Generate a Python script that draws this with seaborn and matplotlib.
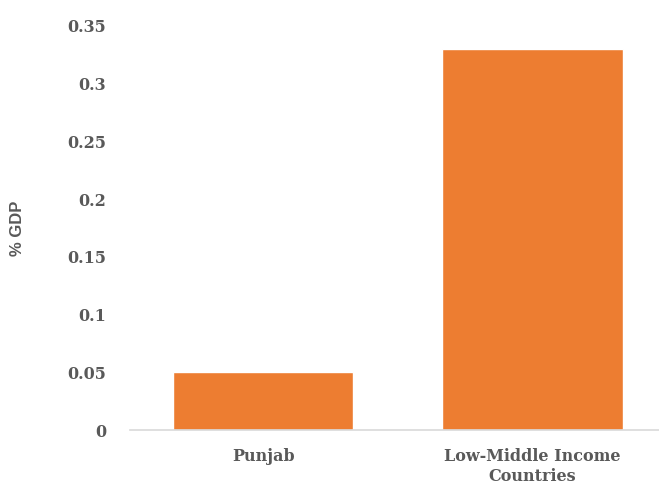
import numpy as np
import pandas as pd
import matplotlib
matplotlib.use("Agg")
import matplotlib.pyplot as plt
import seaborn as sns

# data
regions = ["Punjab", "Low-Middle Income\nCountries"]
pct_gdp = [0.05, 0.33]
y_ticks = [0, 0.05, 0.1, 0.15, 0.2, 0.25, 0.3, 0.35]
y_tick_labels = ["0", "0.05", "0.1", "0.15", "0.2", "0.25", "0.3", "0.35"]

df = pd.DataFrame({"region": regions, "value": pct_gdp})

sns.set_style("white")
plt.rcParams["font.family"] = ["Liberation Sans", "DejaVu Sans"]
fig = plt.figure(figsize=(6.59, 4.90), dpi=100)
ax = fig.add_axes([0.197, 0.122, 0.803, 0.825])

sns.barplot(data=df, x="region", y="value", color="#ED7D31", saturation=1,
            width=0.67, ax=ax)

ax.set_ylim(0, 0.35)
ax.set_xlim(-0.495, 1.47)
ax.set_yticks(y_ticks)
ax.set_yticklabels(y_tick_labels)

# serif bold ticks like the original
tick_font = dict(family="DejaVu Serif", weight="bold", size=11.5, color="#595959")
for lab in ax.get_yticklabels() + ax.get_xticklabels():
    lab.set_fontfamily(tick_font["family"])
    lab.set_fontweight(tick_font["weight"])
    lab.set_fontsize(tick_font["size"])
    lab.set_color(tick_font["color"])
    lab.set_linespacing(1.2)

ax.tick_params(axis="y", length=0, pad=17)
ax.tick_params(axis="x", length=0, pad=13)

ax.set_xlabel("")
ax.set_ylabel("% GDP", fontsize=12, fontweight="bold", color="#595959")
ax.yaxis.set_label_coords(-0.198, 0.5)

for s in ["top", "right", "left"]:
    ax.spines[s].set_visible(False)
ax.spines["bottom"].set_color("#d9d9d9")
ax.spines["bottom"].set_linewidth(1.2)

fig.savefig("out.png", dpi=100)
